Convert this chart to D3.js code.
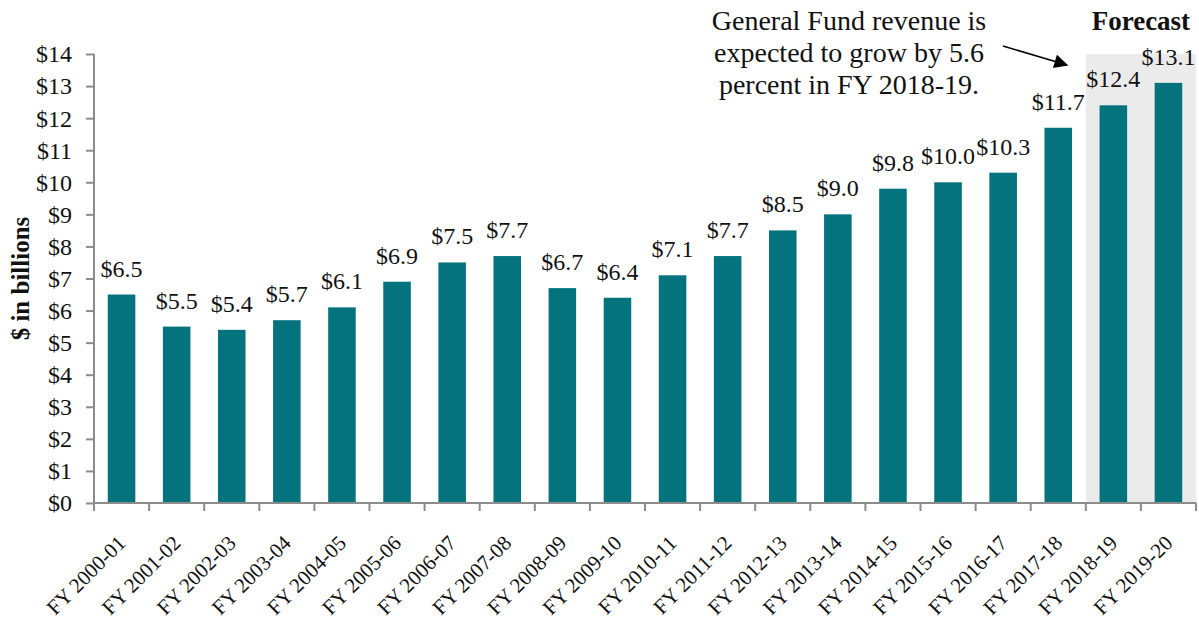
<!DOCTYPE html>
<html>
<head>
<meta charset="utf-8">
<script src="https://cdn.jsdelivr.net/npm/d3@7"></script>
<style>
  html, body { margin: 0; padding: 0; background: #fff; }
  svg text { font-family: "Liberation Serif", "DejaVu Serif", serif; fill: #111; }
</style>
</head>
<body>
<svg id="chart" width="1199" height="622" font-family="Liberation Serif, serif"></svg>
<script>
// General Fund revenue by fiscal year, $ billions
const years = ["FY 2000-01","FY 2001-02","FY 2002-03","FY 2003-04","FY 2004-05","FY 2005-06",
  "FY 2006-07","FY 2007-08","FY 2008-09","FY 2009-10","FY 2010-11","FY 2011-12","FY 2012-13",
  "FY 2013-14","FY 2014-15","FY 2015-16","FY 2016-17","FY 2017-18","FY 2018-19","FY 2019-20"];
const revenue = [6.5,5.5,5.4,5.7,6.1,6.9,7.5,7.7,6.7,6.4,7.1,7.7,8.5,9.0,9.8,10.0,10.3,11.7,12.4,13.1];
const forecastYears = ["FY 2018-19","FY 2019-20"];
const yTicks = [0,1,2,3,4,5,6,7,8,9,10,11,12,13,14];
const noteLines = ["General Fund revenue is","expected to grow by 5.6","percent in FY 2018-19."];

const svg = d3.select("#chart");
const margin = {left: 94, right: 3, top: 54, bottom: 119};
const W = 1199, H = 622;

const x = d3.scaleBand().domain(years).range([margin.left, W - margin.right]).paddingInner(0.5).paddingOuter(0.25);
const y = d3.scaleLinear().domain([0, 14]).range([H - margin.bottom, margin.top]);
const gap = (x.step() - x.bandwidth()) / 2;

// forecast shading
svg.append("rect")
  .attr("x", x(forecastYears[0]) - gap)
  .attr("y", y(14))
  .attr("width", x.step() * forecastYears.length)
  .attr("height", y(0) - y(14))
  .attr("fill", "#ebebeb");

// bars
svg.append("g").selectAll("rect").data(revenue).join("rect")
  .attr("x", (d, i) => x(years[i]))
  .attr("y", d => y(d))
  .attr("width", x.bandwidth())
  .attr("height", d => y(0) - y(d))
  .attr("fill", "#04737e");

// value labels
svg.append("g").selectAll("text").data(revenue).join("text")
  .attr("x", (d, i) => x(years[i]) + x.bandwidth() / 2)
  .attr("y", d => y(d) - 18)
  .attr("text-anchor", "middle")
  .attr("font-size", 24)
  .text(d => "$" + d.toFixed(1));

// y axis
const yAxis = svg.append("g")
  .attr("transform", `translate(${margin.left},0)`)
  .call(d3.axisLeft(y).tickValues(yTicks).tickSize(8).tickPadding(14).tickFormat(d => "$" + d));
yAxis.attr("font-family", null).attr("font-size", null);
yAxis.selectAll("line, path").attr("stroke", "#8c8c8c").attr("stroke-width", 2);
yAxis.select(".domain").attr("d", `M0,${y(0)}V${y(14)}`);
yAxis.selectAll("text").attr("font-size", 24).attr("fill", "#111").attr("dy", "0.33em");

// x axis: ticks at category boundaries
const xg = svg.append("g").attr("transform", `translate(0,${y(0)})`);
xg.append("line")
  .attr("x1", margin.left).attr("x2", W - margin.right)
  .attr("stroke", "#8c8c8c").attr("stroke-width", 2);
const bounds = d3.range(years.length + 1).map(i => margin.left + i * x.step());
xg.selectAll("line.tick").data(bounds).join("line")
  .attr("class", "tick")
  .attr("x1", d => d).attr("x2", d => d)
  .attr("y1", 0).attr("y2", 8)
  .attr("stroke", "#8c8c8c").attr("stroke-width", 2);
xg.selectAll("text").data(years).join("text")
  .attr("transform", d => `translate(${x(d) + x.bandwidth() / 2 - 5},${31}) rotate(-45)`)
  .attr("text-anchor", "end")
  .attr("dy", "0.7em")
  .attr("font-size", 21)
  .text(d => d);

// y axis title
svg.append("text")
  .attr("transform", `translate(29,${(y(0) + y(14)) / 2}) rotate(-90)`)
  .attr("text-anchor", "middle")
  .attr("font-size", 25)
  .attr("font-weight", "bold")
  .text("$ in billions");

// forecast title
svg.append("text")
  .attr("x", x(forecastYears[0]) - gap + x.step())
  .attr("y", 30)
  .attr("text-anchor", "middle")
  .attr("font-size", 27)
  .attr("font-weight", "bold")
  .text("Forecast");

// annotation
svg.append("g").selectAll("text").data(noteLines).join("text")
  .attr("x", 849)
  .attr("y", (d, i) => 30 + i * 32)
  .attr("text-anchor", "middle")
  .attr("font-size", 28)
  .text(d => d);

svg.append("defs").append("marker")
  .attr("id", "arrow").attr("viewBox", "0 0 10 10")
  .attr("refX", 9).attr("refY", 5)
  .attr("markerWidth", 16).attr("markerHeight", 14)
  .attr("markerUnits", "userSpaceOnUse")
  .attr("orient", "auto")
  .append("path").attr("d", "M0,0L10,5L0,10Z").attr("fill", "#000");
svg.append("line")
  .attr("x1", 1003).attr("y1", 46)
  .attr("x2", 1067).attr("y2", 65)
  .attr("stroke", "#000").attr("stroke-width", 1.5)
  .attr("marker-end", "url(#arrow)");
</script>
</body>
</html>
